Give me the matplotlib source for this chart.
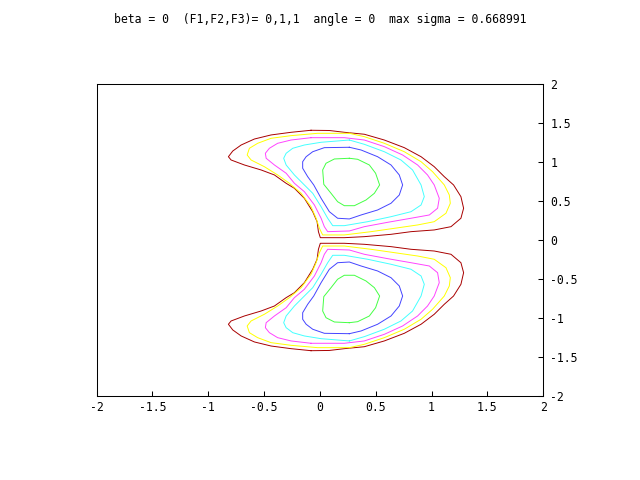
import numpy as np
import matplotlib
matplotlib.use("Agg")
import matplotlib.pyplot as plt

title = "beta = 0  (F1,F2,F3)= 0,1,1  angle = 0  max sigma = 0.668991"

# contour lines of the upper lobe (lower lobe is its mirror in y)
red_x = [-0.079, -0.258, -0.437, -0.586, -0.705, -0.780, -0.819, -0.795, -0.676, -0.526,
         -0.407, -0.302, -0.228, -0.139, -0.064, -0.025, -0.013, 0.004, 0.219, 0.398,
         0.637, 0.816, 1.024, 1.174, 1.263, 1.287, 1.263, 1.197, 1.114, 1.024,
         0.906, 0.756, 0.577, 0.398, 0.219, 0.085]
red_y = [1.413, 1.387, 1.353, 1.301, 1.224, 1.147, 1.074, 1.032, 0.968, 0.904,
         0.840, 0.733, 0.669, 0.541, 0.369, 0.241, 0.113, 0.036, 0.036, 0.049,
         0.079, 0.113, 0.135, 0.177, 0.285, 0.413, 0.562, 0.712, 0.818, 0.946,
         1.074, 1.190, 1.288, 1.362, 1.387, 1.410]

yellow_x = [0.264, -0.020, -0.258, -0.437, -0.557, -0.631, -0.651, -0.616, -0.497, -0.378,
            -0.273, -0.168, -0.079, -0.034, -0.004, 0.025, 0.219, 0.458, 0.667, 0.875,
            1.024, 1.129, 1.168, 1.159, 1.114, 1.009, 0.906, 0.756, 0.577, 0.398]
yellow_y = [1.374, 1.374, 1.344, 1.310, 1.246, 1.182, 1.096, 1.032, 0.946, 0.840,
            0.733, 0.605, 0.433, 0.285, 0.156, 0.071, 0.071, 0.113, 0.156, 0.199,
            0.241, 0.349, 0.477, 0.583, 0.712, 0.882, 1.010, 1.138, 1.246, 1.331]

magenta_x = [-0.079, -0.258, -0.378, -0.452, -0.488, -0.481, -0.407, -0.302, -0.228, -0.139,
             -0.049, 0.011, 0.040, 0.070, 0.264, 0.398, 0.607, 0.816, 0.980, 1.054,
             1.069, 1.024, 0.964, 0.875, 0.741, 0.577, 0.398, 0.219]
magenta_y = [1.318, 1.288, 1.246, 1.182, 1.118, 1.054, 0.968, 0.862, 0.733, 0.626,
             0.455, 0.285, 0.177, 0.113, 0.122, 0.177, 0.233, 0.285, 0.327, 0.413,
             0.541, 0.712, 0.840, 0.968, 1.096, 1.203, 1.288, 1.318]

cyan_x = [0.264, 0.011, -0.139, -0.243, -0.302, -0.324, -0.302, -0.228, -0.139, -0.064,
          0.011, 0.070, 0.115, 0.219, 0.428, 0.637, 0.816, 0.906, 0.935, 0.906,
          0.830, 0.726, 0.577, 0.398]
cyan_y = [1.288, 1.259, 1.224, 1.182, 1.118, 1.054, 0.968, 0.840, 0.712, 0.605,
          0.433, 0.285, 0.190, 0.190, 0.241, 0.305, 0.369, 0.455, 0.562, 0.712,
          0.904, 1.032, 1.138, 1.233]

blue_x = [0.264, 0.040, -0.064, -0.123, -0.154, -0.154, -0.109, -0.055, 0.011, 0.085,
          0.159, 0.264, 0.369, 0.517, 0.637, 0.711, 0.741, 0.711, 0.637, 0.517, 0.369]
blue_y = [1.195, 1.190, 1.138, 1.074, 1.010, 0.926, 0.818, 0.712, 0.541, 0.369,
          0.285, 0.276, 0.327, 0.391, 0.477, 0.583, 0.712, 0.840, 0.968, 1.074, 1.160]

green_x = [0.264, 0.130, 0.055, 0.025, 0.035, 0.100, 0.159, 0.219, 0.309, 0.413,
           0.488, 0.535, 0.499, 0.443, 0.338]
green_y = [1.054, 1.045, 0.990, 0.904, 0.720, 0.605, 0.497, 0.446, 0.446, 0.519,
           0.605, 0.712, 0.862, 0.968, 1.041]

contours = [
    (red_x, red_y, "#a80000"),
    (yellow_x, yellow_y, "#ffff00"),
    (magenta_x, magenta_y, "#ff44ff"),
    (cyan_x, cyan_y, "#44ffff"),
    (blue_x, blue_y, "#4444ff"),
    (green_x, green_y, "#44ff44"),
]

ticks = [-2, -1.5, -1, -0.5, 0, 0.5, 1, 1.5, 2]
tick_labels = ["-2", "-1.5", "-1", "-0.5", "0", "0.5", "1", "1.5", "2"]

plt.rcParams['font.family'] = ['DejaVu Sans Mono']

fig = plt.figure(figsize=(6.4, 4.8), dpi=100)
ax = fig.add_axes([0.1508, 0.174, 0.698, 0.65])

for cx, cy, col in contours:
    xs = np.append(cx, cx[0])
    ys = np.append(cy, cy[0])
    ax.plot(xs, ys, color=col, lw=0.7)
    ax.plot(xs, -ys, color=col, lw=0.7)

ax.set_xlim(-2, 2)
ax.set_ylim(-2, 2)
ax.set_xticks(ticks)
ax.set_xticklabels(tick_labels)
ax.set_yticks(ticks)
ax.set_yticklabels(tick_labels)
ax.tick_params(axis='x', direction='in', length=3.6, width=0.75, pad=3,
               labelsize=8.3, top=False, bottom=True)
ax.tick_params(axis='y', direction='in', length=3.6, width=0.75, pad=5,
               labelsize=8.3, left=False, right=True, labelleft=False, labelright=True)
for s in ax.spines.values():
    s.set_linewidth(0.75)

fig.text(0.5, 1 - 20 / 480, title, ha='center', va='center', fontsize=8.3)

fig.savefig("out.png", dpi=100)
